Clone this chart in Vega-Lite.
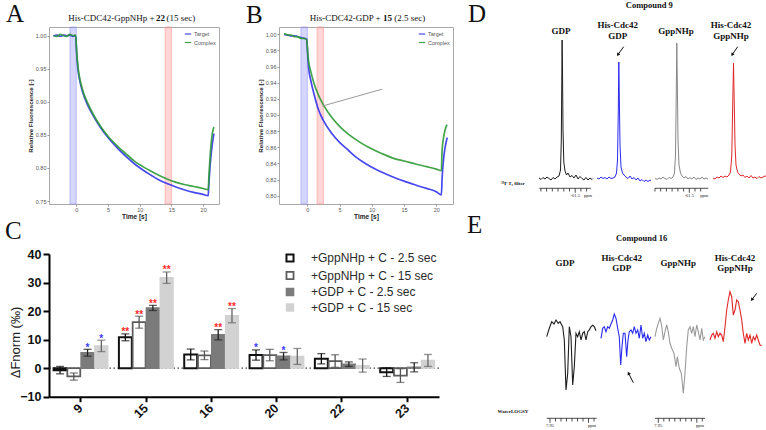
{
"$schema": "https://vega.github.io/schema/vega-lite/v6.json",
"background": "#ffffff",
"padding": {"left": 5, "top": 0, "right": 0, "bottom": 0},
"spacing": -9,
"resolve": {"scale": {"color": "independent", "fill": "independent", "stroke": "independent", "strokeWidth": "independent"}},
"config": {"view": {"stroke": null}, "font": "Liberation Sans"},
"vconcat": [
 {"bounds": "flush", "spacing": 14,
  "resolve": {"scale": {"color": "independent", "fill": "independent", "stroke": "independent", "strokeWidth": "independent"}},
  "hconcat": [
  {
   "width": 170, "height": 177,
   "view": {"stroke": "#aaaaaa"},
   "encoding": {"x": {"field": "t", "type": "quantitative", "scale": {"domain": [-4.3, 22.5], "nice": false, "zero": false},
     "axis": {"values": [0,5,10,15,20], "format": "d", "tickCount": 100, "labelOverlap": false, "title": "Time [s]", "grid": false, "domain": false, "labelFontSize": 5.5, "labelColor": "#555555", "tickSize": 2, "tickColor": "#999999", "labelPadding": 1, "titleFontSize": 6.5, "titleFontWeight": "bold", "titleColor": "#222222", "titlePadding": 1}}},
   "layer": [
    {"data": {"values": [{"t": -1, "t2": 0, "window": "pre-injection"}, {"t": 14, "t2": 15, "window": "read-out"}]},
     "mark": {"type": "rect", "fillOpacity": 0.28, "strokeWidth": 0.8, "strokeOpacity": 0.6},
     "encoding": {"x2": {"field": "t2"},
       "fill": {"field": "window", "type": "nominal", "scale": {"domain": ["pre-injection", "read-out"], "range": ["#6a6aff", "#ff6a6a"]}, "legend": null},
       "stroke": {"field": "window", "type": "nominal", "scale": {"domain": ["pre-injection", "read-out"], "range": ["#8a8aff", "#ff8a8a"]}, "legend": null}}},
    {"data": {"values": [
      {"t": -3.6, "f": 1.000, "series": "Target"}, {"t": -3, "f": 1.001, "series": "Target"}, {"t": -2.5, "f": 0.999, "series": "Target"}, {"t": -2, "f": 1.001, "series": "Target"}, {"t": -1.5, "f": 1.000, "series": "Target"}, {"t": -1, "f": 1.001, "series": "Target"}, {"t": -0.5, "f": 0.999, "series": "Target"}, {"t": -0.1, "f": 1.000, "series": "Target"}, {"t": 0.05, "f": 0.975, "series": "Target"}, {"t": 0.25, "f": 0.950, "series": "Target"}, {"t": 0.6, "f": 0.930, "series": "Target"}, {"t": 1, "f": 0.915, "series": "Target"}, {"t": 1.8, "f": 0.895, "series": "Target"}, {"t": 2.8, "f": 0.877, "series": "Target"}, {"t": 3.9, "f": 0.860, "series": "Target"}, {"t": 5, "f": 0.846, "series": "Target"}, {"t": 6.6, "f": 0.829, "series": "Target"}, {"t": 8, "f": 0.816, "series": "Target"}, {"t": 9.2, "f": 0.806, "series": "Target"}, {"t": 10.5, "f": 0.797, "series": "Target"}, {"t": 11.8, "f": 0.789, "series": "Target"}, {"t": 13, "f": 0.782, "series": "Target"}, {"t": 14.4, "f": 0.776, "series": "Target"}, {"t": 15.5, "f": 0.772, "series": "Target"}, {"t": 17, "f": 0.767, "series": "Target"}, {"t": 18.5, "f": 0.763, "series": "Target"}, {"t": 20, "f": 0.760, "series": "Target"}, {"t": 20.8, "f": 0.758, "series": "Target"}, {"t": 20.9, "f": 0.775, "series": "Target"}, {"t": 21.2, "f": 0.815, "series": "Target"}, {"t": 21.5, "f": 0.840, "series": "Target"}, {"t": 21.7, "f": 0.852, "series": "Target"},
      {"t": -3.6, "f": 1.000, "series": "Complex"}, {"t": -3, "f": 0.999, "series": "Complex"}, {"t": -2.5, "f": 1.002, "series": "Complex"}, {"t": -2, "f": 1.000, "series": "Complex"}, {"t": -1.5, "f": 0.999, "series": "Complex"}, {"t": -1, "f": 1.002, "series": "Complex"}, {"t": -0.5, "f": 1.000, "series": "Complex"}, {"t": -0.1, "f": 1.001, "series": "Complex"}, {"t": 0.05, "f": 0.978, "series": "Complex"}, {"t": 0.25, "f": 0.955, "series": "Complex"}, {"t": 0.6, "f": 0.933, "series": "Complex"}, {"t": 1, "f": 0.918, "series": "Complex"}, {"t": 1.8, "f": 0.898, "series": "Complex"}, {"t": 2.8, "f": 0.879, "series": "Complex"}, {"t": 3.9, "f": 0.862, "series": "Complex"}, {"t": 5, "f": 0.848, "series": "Complex"}, {"t": 6.6, "f": 0.832, "series": "Complex"}, {"t": 8, "f": 0.820, "series": "Complex"}, {"t": 9.2, "f": 0.810, "series": "Complex"}, {"t": 10.5, "f": 0.802, "series": "Complex"}, {"t": 11.8, "f": 0.795, "series": "Complex"}, {"t": 13, "f": 0.789, "series": "Complex"}, {"t": 14.4, "f": 0.783, "series": "Complex"}, {"t": 15.5, "f": 0.779, "series": "Complex"}, {"t": 17, "f": 0.775, "series": "Complex"}, {"t": 18.5, "f": 0.772, "series": "Complex"}, {"t": 20, "f": 0.769, "series": "Complex"}, {"t": 20.8, "f": 0.767, "series": "Complex"}, {"t": 20.9, "f": 0.785, "series": "Complex"}, {"t": 21.2, "f": 0.830, "series": "Complex"}, {"t": 21.5, "f": 0.855, "series": "Complex"}, {"t": 21.7, "f": 0.862, "series": "Complex"}]},
     "mark": {"type": "line", "strokeWidth": 1.7, "interpolate": "monotone", "opacity": 0.9},
     "encoding": {"y": {"field": "f", "type": "quantitative", "scale": {"domain": [0.7455, 1.0132], "nice": false, "zero": false},
       "axis": {"values": [0.75,0.8,0.85,0.9,0.95,1.0], "tickCount": 100, "labelOverlap": false, "format": ".2f", "title": "Relative Fluorescence [-]", "grid": false, "domain": false, "labelFontSize": 5.5, "labelColor": "#555555", "tickSize": 2, "tickColor": "#999999", "labelPadding": 1, "titleFontSize": 6.2, "titleFontWeight": "bold", "titleColor": "#222222", "titlePadding": 2}},
       "color": {"field": "series", "type": "nominal", "scale": {"domain": ["Target", "Complex"], "range": ["#3434ee", "#2f9a35"]},
         "legend": {"title": null, "orient": "top-right", "offset": 3, "padding": 0, "labelFontSize": 5.5, "labelColor": "#555555", "symbolType": "stroke", "symbolSize": 40, "symbolStrokeWidth": 1.2, "rowPadding": 0.5, "labelOffset": 2}}}},
    {"data": {"values": [{"t": -11.08, "f": 1.0207, "label": "A"}]},
     "mark": {"type": "text", "align": "left", "baseline": "alphabetic", "font": "Liberation Serif", "fontSize": 25, "color": "#111111"},
     "encoding": {"y": {"field": "f", "type": "quantitative"}, "text": {"field": "label"}}},
    {"data": {"values": [{"t": 12.33, "f": 1.0227, "label": "His-CDC42-GppNHp +"}]},
     "mark": {"type": "text", "align": "right", "baseline": "alphabetic", "font": "Liberation Serif", "fontSize": 9, "color": "#111111"},
     "encoding": {"y": {"field": "f", "type": "quantitative"}, "text": {"field": "label"}}},
    {"data": {"values": [{"t": 13.28, "f": 1.0227, "label": "22"}]},
     "mark": {"type": "text", "align": "center", "baseline": "alphabetic", "font": "Liberation Serif", "fontSize": 9, "fontWeight": "bold", "color": "#111111"},
     "encoding": {"y": {"field": "f", "type": "quantitative"}, "text": {"field": "label"}}},
    {"data": {"values": [{"t": 14.22, "f": 1.0227, "label": "(15 sec)"}]},
     "mark": {"type": "text", "align": "left", "baseline": "alphabetic", "font": "Liberation Serif", "fontSize": 9, "color": "#111111"},
     "encoding": {"y": {"field": "f", "type": "quantitative"}, "text": {"field": "label"}}}
   ]
  },
  {"width": 32, "height": 1, "data": {"values": [{"spacer": 1}]}, "mark": {"type": "point", "opacity": 0}, "encoding": {}},
  {
   "width": 174, "height": 177,
   "view": {"stroke": "#aaaaaa"},
   "encoding": {"x": {"field": "t", "type": "quantitative", "scale": {"domain": [-4.4, 22.6], "nice": false, "zero": false},
     "axis": {"values": [0,5,10,15,20], "format": "d", "tickCount": 100, "labelOverlap": false, "title": "Time [s]", "grid": false, "domain": false, "labelFontSize": 5.5, "labelColor": "#555555", "tickSize": 2, "tickColor": "#999999", "labelPadding": 1, "titleFontSize": 6.5, "titleFontWeight": "bold", "titleColor": "#222222", "titlePadding": 1}}},
   "layer": [
    {"data": {"values": [{"t": -1, "t2": 0, "window": "pre-injection"}, {"t": 1.5, "t2": 2.5, "window": "read-out"}]},
     "mark": {"type": "rect", "fillOpacity": 0.28, "strokeWidth": 0.8, "strokeOpacity": 0.6},
     "encoding": {"x2": {"field": "t2"},
       "fill": {"field": "window", "type": "nominal", "scale": {"domain": ["pre-injection", "read-out"], "range": ["#6a6aff", "#ff6a6a"]}, "legend": null},
       "stroke": {"field": "window", "type": "nominal", "scale": {"domain": ["pre-injection", "read-out"], "range": ["#8a8aff", "#ff8a8a"]}, "legend": null}}},
    {"data": {"values": [
      {"t": -3.6, "f": 1.000, "series": "Target"}, {"t": -3, "f": 0.999, "series": "Target"}, {"t": -2.5, "f": 0.998, "series": "Target"}, {"t": -2, "f": 0.998, "series": "Target"}, {"t": -1.5, "f": 0.997, "series": "Target"}, {"t": -1, "f": 0.996, "series": "Target"}, {"t": -0.5, "f": 0.995, "series": "Target"}, {"t": -0.1, "f": 0.994, "series": "Target"}, {"t": 0.05, "f": 0.975, "series": "Target"}, {"t": 0.2, "f": 0.958, "series": "Target"}, {"t": 0.5, "f": 0.944, "series": "Target"}, {"t": 1, "f": 0.927, "series": "Target"}, {"t": 1.7, "f": 0.907, "series": "Target"}, {"t": 2.5, "f": 0.893, "series": "Target"}, {"t": 3.8, "f": 0.877, "series": "Target"}, {"t": 5, "f": 0.866, "series": "Target"}, {"t": 6.4, "f": 0.856, "series": "Target"}, {"t": 7.5, "f": 0.848, "series": "Target"}, {"t": 9, "f": 0.840, "series": "Target"}, {"t": 10.3, "f": 0.834, "series": "Target"}, {"t": 11.6, "f": 0.829, "series": "Target"}, {"t": 13, "f": 0.824, "series": "Target"}, {"t": 15, "f": 0.818, "series": "Target"}, {"t": 16.9, "f": 0.813, "series": "Target"}, {"t": 18.5, "f": 0.809, "series": "Target"}, {"t": 20, "f": 0.805, "series": "Target"}, {"t": 20.8, "f": 0.801, "series": "Target"}, {"t": 20.9, "f": 0.820, "series": "Target"}, {"t": 21.2, "f": 0.850, "series": "Target"}, {"t": 21.5, "f": 0.865, "series": "Target"}, {"t": 21.7, "f": 0.872, "series": "Target"},
      {"t": -3.6, "f": 1.001, "series": "Complex"}, {"t": -3, "f": 0.999, "series": "Complex"}, {"t": -2.5, "f": 0.999, "series": "Complex"}, {"t": -2, "f": 0.997, "series": "Complex"}, {"t": -1.5, "f": 0.997, "series": "Complex"}, {"t": -1, "f": 0.995, "series": "Complex"}, {"t": -0.5, "f": 0.995, "series": "Complex"}, {"t": -0.1, "f": 0.993, "series": "Complex"}, {"t": 0.05, "f": 0.978, "series": "Complex"}, {"t": 0.2, "f": 0.966, "series": "Complex"}, {"t": 0.5, "f": 0.955, "series": "Complex"}, {"t": 1, "f": 0.940, "series": "Complex"}, {"t": 1.7, "f": 0.925, "series": "Complex"}, {"t": 2.6, "f": 0.911, "series": "Complex"}, {"t": 3.8, "f": 0.897, "series": "Complex"}, {"t": 5, "f": 0.886, "series": "Complex"}, {"t": 6.4, "f": 0.876, "series": "Complex"}, {"t": 8, "f": 0.867, "series": "Complex"}, {"t": 9.5, "f": 0.860, "series": "Complex"}, {"t": 11.6, "f": 0.852, "series": "Complex"}, {"t": 13.5, "f": 0.846, "series": "Complex"}, {"t": 15, "f": 0.843, "series": "Complex"}, {"t": 16.9, "f": 0.839, "series": "Complex"}, {"t": 18.5, "f": 0.836, "series": "Complex"}, {"t": 20, "f": 0.833, "series": "Complex"}, {"t": 20.8, "f": 0.831, "series": "Complex"}, {"t": 20.9, "f": 0.855, "series": "Complex"}, {"t": 21.2, "f": 0.875, "series": "Complex"}, {"t": 21.5, "f": 0.885, "series": "Complex"}, {"t": 21.7, "f": 0.888, "series": "Complex"}]},
     "mark": {"type": "line", "strokeWidth": 1.7, "interpolate": "monotone", "opacity": 0.9},
     "encoding": {"y": {"field": "f", "type": "quantitative", "scale": {"domain": [0.7897, 1.00905], "nice": false, "zero": false},
       "axis": {"values": [0.8,0.82,0.84,0.86,0.88,0.9,0.92,0.94,0.96,0.98,1.0], "tickCount": 100, "labelOverlap": false, "format": ".2f", "title": "Relative Fluorescence [-]", "grid": false, "domain": false, "labelFontSize": 5.5, "labelColor": "#555555", "tickSize": 2, "tickColor": "#999999", "labelPadding": 1, "titleFontSize": 6.2, "titleFontWeight": "bold", "titleColor": "#222222", "titlePadding": 2}},
       "color": {"field": "series", "type": "nominal", "scale": {"domain": ["Target", "Complex"], "range": ["#3434ee", "#2f9a35"]},
         "legend": {"title": null, "orient": "top-right", "offset": 3, "padding": 0, "labelFontSize": 5.5, "labelColor": "#555555", "symbolType": "stroke", "symbolSize": 40, "symbolStrokeWidth": 1.2, "rowPadding": 0.5, "labelOffset": 2}}}},
    {"data": {"values": [{"t": 2.3, "f": 0.911, "t2": 11.6, "f2": 0.932}]},
     "mark": {"type": "rule", "color": "#9a9a9a", "strokeWidth": 1},
     "encoding": {"y": {"field": "f", "type": "quantitative"}, "x2": {"field": "t2"}, "y2": {"field": "f2"}}},
    {"data": {"values": [{"t": -9.52, "f": 1.01401, "label": "B"}]},
     "mark": {"type": "text", "align": "left", "baseline": "alphabetic", "font": "Liberation Serif", "fontSize": 25, "color": "#111111"},
     "encoding": {"y": {"field": "f", "type": "quantitative"}, "text": {"field": "label"}}},
    {"data": {"values": [{"t": 11.38, "f": 1.01686, "label": "His-CDC42-GDP +"}]},
     "mark": {"type": "text", "align": "right", "baseline": "alphabetic", "font": "Liberation Serif", "fontSize": 9, "color": "#111111"},
     "encoding": {"y": {"field": "f", "type": "quantitative"}, "text": {"field": "label"}}},
    {"data": {"values": [{"t": 12.42, "f": 1.01686, "label": "15"}]},
     "mark": {"type": "text", "align": "center", "baseline": "alphabetic", "font": "Liberation Serif", "fontSize": 9, "fontWeight": "bold", "color": "#111111"},
     "encoding": {"y": {"field": "f", "type": "quantitative"}, "text": {"field": "label"}}},
    {"data": {"values": [{"t": 13.48, "f": 1.01686, "label": "(2.5 sec)"}]},
     "mark": {"type": "text", "align": "left", "baseline": "alphabetic", "font": "Liberation Serif", "fontSize": 9, "color": "#111111"},
     "encoding": {"y": {"field": "f", "type": "quantitative"}, "text": {"field": "label"}}}
   ]
  },
  {
   "width": 300, "height": 173,
   "encoding": {
    "x": {"field": "x", "type": "quantitative", "scale": {"domain": [0, 300], "nice": false, "zero": false}, "axis": null},
    "y": {"field": "y", "type": "quantitative", "scale": {"domain": [0, 173], "nice": false, "zero": false}, "axis": null}},
   "layer": [
    {"data": {"values": [
      {"x": 72, "y": 22, "sample": "GDP"}, {"x": 74, "y": 20.5, "sample": "GDP"}, {"x": 76, "y": 22.5, "sample": "GDP"}, {"x": 78, "y": 21, "sample": "GDP"}, {"x": 80, "y": 23, "sample": "GDP"}, {"x": 82, "y": 21.5, "sample": "GDP"}, {"x": 84, "y": 20, "sample": "GDP"}, {"x": 86, "y": 22.5, "sample": "GDP"}, {"x": 88, "y": 21, "sample": "GDP"}, {"x": 90, "y": 23, "sample": "GDP"}, {"x": 92, "y": 24, "sample": "GDP"}, {"x": 93.5, "y": 30, "sample": "GDP"}, {"x": 94.3, "y": 60, "sample": "GDP"}, {"x": 94.8, "y": 120, "sample": "GDP"}, {"x": 95.1, "y": 160, "sample": "GDP"}, {"x": 95.5, "y": 130, "sample": "GDP"}, {"x": 96, "y": 70, "sample": "GDP"}, {"x": 96.8, "y": 38, "sample": "GDP"}, {"x": 98, "y": 29, "sample": "GDP"}, {"x": 99.5, "y": 25, "sample": "GDP"}, {"x": 101, "y": 27, "sample": "GDP"}, {"x": 103, "y": 23, "sample": "GDP"}, {"x": 105, "y": 24.5, "sample": "GDP"}, {"x": 107, "y": 22, "sample": "GDP"}, {"x": 109, "y": 25, "sample": "GDP"}, {"x": 111, "y": 21, "sample": "GDP"}, {"x": 113, "y": 23.5, "sample": "GDP"}, {"x": 115, "y": 21.5, "sample": "GDP"}, {"x": 117, "y": 20, "sample": "GDP"}, {"x": 119, "y": 22.5, "sample": "GDP"}, {"x": 121, "y": 20, "sample": "GDP"}, {"x": 123, "y": 22, "sample": "GDP"}, {"x": 125, "y": 20.5, "sample": "GDP"}, {"x": 126, "y": 21.5, "sample": "GDP"},
      {"x": 130, "y": 22, "sample": "His-Cdc42 GDP"}, {"x": 132, "y": 21, "sample": "His-Cdc42 GDP"}, {"x": 134, "y": 23, "sample": "His-Cdc42 GDP"}, {"x": 136, "y": 21.5, "sample": "His-Cdc42 GDP"}, {"x": 138, "y": 22.5, "sample": "His-Cdc42 GDP"}, {"x": 140, "y": 21, "sample": "His-Cdc42 GDP"}, {"x": 142, "y": 23, "sample": "His-Cdc42 GDP"}, {"x": 144, "y": 21.5, "sample": "His-Cdc42 GDP"}, {"x": 146, "y": 22, "sample": "His-Cdc42 GDP"}, {"x": 148, "y": 23, "sample": "His-Cdc42 GDP"}, {"x": 149.5, "y": 27, "sample": "His-Cdc42 GDP"}, {"x": 150.5, "y": 40, "sample": "His-Cdc42 GDP"}, {"x": 151.3, "y": 90, "sample": "His-Cdc42 GDP"}, {"x": 151.8, "y": 138, "sample": "His-Cdc42 GDP"}, {"x": 152.3, "y": 105, "sample": "His-Cdc42 GDP"}, {"x": 153, "y": 55, "sample": "His-Cdc42 GDP"}, {"x": 154, "y": 33, "sample": "His-Cdc42 GDP"}, {"x": 155.5, "y": 27, "sample": "His-Cdc42 GDP"}, {"x": 157, "y": 25, "sample": "His-Cdc42 GDP"}, {"x": 159, "y": 23, "sample": "His-Cdc42 GDP"}, {"x": 161, "y": 21.5, "sample": "His-Cdc42 GDP"}, {"x": 163, "y": 24, "sample": "His-Cdc42 GDP"}, {"x": 165, "y": 21, "sample": "His-Cdc42 GDP"}, {"x": 167, "y": 22.5, "sample": "His-Cdc42 GDP"}, {"x": 169, "y": 20, "sample": "His-Cdc42 GDP"}, {"x": 171, "y": 22, "sample": "His-Cdc42 GDP"}, {"x": 173, "y": 19, "sample": "His-Cdc42 GDP"}, {"x": 175, "y": 20.5, "sample": "His-Cdc42 GDP"}, {"x": 177, "y": 18.5, "sample": "His-Cdc42 GDP"}, {"x": 179, "y": 20, "sample": "His-Cdc42 GDP"}, {"x": 181, "y": 18.5, "sample": "His-Cdc42 GDP"}, {"x": 183, "y": 20, "sample": "His-Cdc42 GDP"}, {"x": 184, "y": 19.5, "sample": "His-Cdc42 GDP"},
      {"x": 188, "y": 22, "sample": "GppNHp"}, {"x": 190, "y": 20.5, "sample": "GppNHp"}, {"x": 192, "y": 22, "sample": "GppNHp"}, {"x": 194, "y": 21, "sample": "GppNHp"}, {"x": 196, "y": 23, "sample": "GppNHp"}, {"x": 198, "y": 21.5, "sample": "GppNHp"}, {"x": 200, "y": 20.5, "sample": "GppNHp"}, {"x": 202, "y": 22.5, "sample": "GppNHp"}, {"x": 204, "y": 21.5, "sample": "GppNHp"}, {"x": 206, "y": 23, "sample": "GppNHp"}, {"x": 207.5, "y": 27, "sample": "GppNHp"}, {"x": 208.5, "y": 45, "sample": "GppNHp"}, {"x": 209.3, "y": 110, "sample": "GppNHp"}, {"x": 209.8, "y": 157, "sample": "GppNHp"}, {"x": 210.3, "y": 120, "sample": "GppNHp"}, {"x": 211, "y": 60, "sample": "GppNHp"}, {"x": 212, "y": 35, "sample": "GppNHp"}, {"x": 213.5, "y": 27, "sample": "GppNHp"}, {"x": 215, "y": 24, "sample": "GppNHp"}, {"x": 217, "y": 22, "sample": "GppNHp"}, {"x": 219, "y": 23.5, "sample": "GppNHp"}, {"x": 221, "y": 21, "sample": "GppNHp"}, {"x": 223, "y": 22.5, "sample": "GppNHp"}, {"x": 225, "y": 21, "sample": "GppNHp"}, {"x": 227, "y": 23, "sample": "GppNHp"}, {"x": 229, "y": 20.5, "sample": "GppNHp"}, {"x": 231, "y": 22, "sample": "GppNHp"}, {"x": 233, "y": 21, "sample": "GppNHp"}, {"x": 235, "y": 23, "sample": "GppNHp"}, {"x": 237, "y": 21, "sample": "GppNHp"}, {"x": 239, "y": 22, "sample": "GppNHp"}, {"x": 241, "y": 21, "sample": "GppNHp"},
      {"x": 246, "y": 22, "sample": "His-Cdc42 GppNHp"}, {"x": 248, "y": 21, "sample": "His-Cdc42 GppNHp"}, {"x": 250, "y": 23, "sample": "His-Cdc42 GppNHp"}, {"x": 252, "y": 22, "sample": "His-Cdc42 GppNHp"}, {"x": 254, "y": 24, "sample": "His-Cdc42 GppNHp"}, {"x": 256, "y": 22.5, "sample": "His-Cdc42 GppNHp"}, {"x": 258, "y": 24, "sample": "His-Cdc42 GppNHp"}, {"x": 260, "y": 23, "sample": "His-Cdc42 GppNHp"}, {"x": 262, "y": 25, "sample": "His-Cdc42 GppNHp"}, {"x": 263.5, "y": 28, "sample": "His-Cdc42 GppNHp"}, {"x": 264.8, "y": 45, "sample": "His-Cdc42 GppNHp"}, {"x": 265.8, "y": 100, "sample": "His-Cdc42 GppNHp"}, {"x": 266.5, "y": 137, "sample": "His-Cdc42 GppNHp"}, {"x": 267.2, "y": 100, "sample": "His-Cdc42 GppNHp"}, {"x": 268, "y": 55, "sample": "His-Cdc42 GppNHp"}, {"x": 269, "y": 35, "sample": "His-Cdc42 GppNHp"}, {"x": 270.5, "y": 28, "sample": "His-Cdc42 GppNHp"}, {"x": 272, "y": 26, "sample": "His-Cdc42 GppNHp"}, {"x": 274, "y": 24, "sample": "His-Cdc42 GppNHp"}, {"x": 276, "y": 25, "sample": "His-Cdc42 GppNHp"}, {"x": 278, "y": 22.5, "sample": "His-Cdc42 GppNHp"}, {"x": 280, "y": 24, "sample": "His-Cdc42 GppNHp"}, {"x": 282, "y": 22, "sample": "His-Cdc42 GppNHp"}, {"x": 284, "y": 24.5, "sample": "His-Cdc42 GppNHp"}, {"x": 286, "y": 22, "sample": "His-Cdc42 GppNHp"}, {"x": 288, "y": 23, "sample": "His-Cdc42 GppNHp"}, {"x": 290, "y": 21.5, "sample": "His-Cdc42 GppNHp"}, {"x": 292, "y": 23.5, "sample": "His-Cdc42 GppNHp"}, {"x": 294, "y": 22, "sample": "His-Cdc42 GppNHp"}, {"x": 296, "y": 23, "sample": "His-Cdc42 GppNHp"}, {"x": 298, "y": 24, "sample": "His-Cdc42 GppNHp"}, {"x": 300, "y": 23.5, "sample": "His-Cdc42 GppNHp"}]},
     "mark": {"type": "line", "strokeWidth": 1},
     "encoding": {"color": {"field": "sample", "type": "nominal", "scale": {"domain": ["GDP", "His-Cdc42 GDP", "GppNHp", "His-Cdc42 GppNHp"], "range": ["#1e1e1e", "#2b2bef", "#888888", "#e02828"]}, "legend": null}}},
    {"data": {"values": [
      {"x": 72.3, "x2": 124, "y": 11.7, "y2": 11.7}, {"x": 188, "x2": 241.3, "y": 11.7, "y2": 11.7},
      {"x": 73.9, "x2": 73.9, "y": 11.7, "y2": 8.5}, {"x": 79.6, "x2": 79.6, "y": 11.7, "y2": 8.5}, {"x": 85.3, "x2": 85.3, "y": 11.7, "y2": 8.5}, {"x": 91.0, "x2": 91.0, "y": 11.7, "y2": 8.5}, {"x": 96.8, "x2": 96.8, "y": 11.7, "y2": 8.5}, {"x": 102.5, "x2": 102.5, "y": 11.7, "y2": 8.5}, {"x": 108.2, "x2": 108.2, "y": 11.7, "y2": 7.2}, {"x": 113.9, "x2": 113.9, "y": 11.7, "y2": 8.5}, {"x": 119.6, "x2": 119.6, "y": 11.7, "y2": 8.5},
      {"x": 188, "x2": 188, "y": 11.7, "y2": 8.5}, {"x": 193.7, "x2": 193.7, "y": 11.7, "y2": 8.5}, {"x": 199.4, "x2": 199.4, "y": 11.7, "y2": 8.5}, {"x": 205.1, "x2": 205.1, "y": 11.7, "y2": 8.5}, {"x": 210.9, "x2": 210.9, "y": 11.7, "y2": 8.5}, {"x": 216.6, "x2": 216.6, "y": 11.7, "y2": 8.5}, {"x": 222.3, "x2": 222.3, "y": 11.7, "y2": 7.2}, {"x": 228, "x2": 228, "y": 11.7, "y2": 8.5}, {"x": 233.7, "x2": 233.7, "y": 11.7, "y2": 8.5}]},
     "mark": {"type": "rule", "color": "#222222", "strokeWidth": 0.8},
     "encoding": {"x2": {"field": "x2"}, "y2": {"field": "y2"}}},
    {"data": {"values": [{"x": 156.7, "y": 153.3, "x2": 151.2, "y2": 145.8}, {"x": 270.7, "y": 153.3, "x2": 265.5, "y2": 145.8}]},
     "mark": {"type": "rule", "color": "#111111", "strokeWidth": 1},
     "encoding": {"x2": {"field": "x2"}, "y2": {"field": "y2"}}},
    {"data": {"values": [{"x": 151.2, "y": 145.8}, {"x": 265.5, "y": 145.8}]},
     "mark": {"type": "point", "shape": "triangle", "filled": true, "size": 14, "angle": 215, "color": "#111111", "opacity": 1},
     "encoding": {}},
    {"data": {"values": [{"x": 1, "y": 178, "label": "D"}]},
     "mark": {"type": "text", "align": "left", "baseline": "alphabetic", "font": "Liberation Serif", "fontSize": 25, "color": "#111111"},
     "encoding": {"text": {"field": "label"}}},
    {"data": {"values": [{"x": 182.3, "y": 195, "label": "Compound 9"}]},
     "mark": {"type": "text", "baseline": "middle", "font": "Liberation Serif", "fontSize": 8.5, "fontWeight": "bold", "color": "#111111"},
     "encoding": {"text": {"field": "label"}}},
    {"data": {"values": [{"x": 94, "y": 169.3, "label": "GDP"}, {"x": 150.7, "y": 175, "label": "His-Cdc42"}, {"x": 150.7, "y": 164, "label": "GDP"}, {"x": 209, "y": 169.3, "label": "GppNHp"}, {"x": 264, "y": 175, "label": "His-Cdc42"}, {"x": 264, "y": 164, "label": "GppNHp"}]},
     "mark": {"type": "text", "baseline": "middle", "font": "Liberation Serif", "fontSize": 9, "fontWeight": "bold", "color": "#111111"},
     "encoding": {"text": {"field": "label"}}},
    {"data": {"values": [{"x": 46, "y": 17, "label": "¹⁹F T₂ filter"}]},
     "mark": {"type": "text", "baseline": "middle", "font": "Liberation Serif", "fontSize": 5, "fontWeight": "bold", "color": "#111111"},
     "encoding": {"text": {"field": "label"}}},
    {"data": {"values": [{"x": 108.2, "y": 4.5, "label": "-61.5"}, {"x": 121, "y": 4.5, "label": "ppm"}, {"x": 222.3, "y": 4.5, "label": "-61.5"}, {"x": 237.3, "y": 4.5, "label": "ppm"}]},
     "mark": {"type": "text", "baseline": "middle", "font": "Liberation Serif", "fontSize": 4.5, "color": "#222222"},
     "encoding": {"text": {"field": "label"}}}
   ]
  }
 ]},
 {"bounds": "flush", "spacing": 27,
  "resolve": {"scale": {"color": "independent", "fill": "independent", "stroke": "independent", "strokeWidth": "independent"}},
  "hconcat": [
  {
   "width": 390, "height": 142.7,
   "title": {"text": "C", "anchor": "start", "frame": "group", "font": "Liberation Serif", "fontSize": 25, "fontWeight": "normal", "color": "#111111", "dx": -44, "offset": -16, "baseline": "alphabetic"},
   "data": {"values": [
    {"compound": "9", "cond": "+GppNHp + C - 2.5 sec", "mean": -0.7, "lo": -2.0, "hi": 0.6, "sig": "", "level": ""},
    {"compound": "9", "cond": "+GppNHp + C - 15 sec", "mean": -2.9, "lo": -4.2, "hi": -1.7, "sig": "", "level": ""},
    {"compound": "9", "cond": "+GDP + C - 2.5 sec", "mean": 5.4, "lo": 4.2, "hi": 6.6, "sig": "*", "level": "p<0.05"},
    {"compound": "9", "cond": "+GDP + C - 15 sec", "mean": 7.8, "lo": 5.8, "hi": 9.8, "sig": "*", "level": "p<0.05"},
    {"compound": "15", "cond": "+GppNHp + C - 2.5 sec", "mean": 10.8, "lo": 9.6, "hi": 12.0, "sig": "**", "level": "p<0.01"},
    {"compound": "15", "cond": "+GppNHp + C - 15 sec", "mean": 16.1, "lo": 14.0, "hi": 18.2, "sig": "**", "level": "p<0.01"},
    {"compound": "15", "cond": "+GDP + C - 2.5 sec", "mean": 21.1, "lo": 20.2, "hi": 22.0, "sig": "**", "level": "p<0.01"},
    {"compound": "15", "cond": "+GDP + C - 15 sec", "mean": 31.7, "lo": 29.7, "hi": 33.7, "sig": "**", "level": "p<0.01"},
    {"compound": "16", "cond": "+GppNHp + C - 2.5 sec", "mean": 4.8, "lo": 2.9, "hi": 6.7, "sig": "", "level": ""},
    {"compound": "16", "cond": "+GppNHp + C - 15 sec", "mean": 4.5, "lo": 3.0, "hi": 6.0, "sig": "", "level": ""},
    {"compound": "16", "cond": "+GDP + C - 2.5 sec", "mean": 11.7, "lo": 9.9, "hi": 13.5, "sig": "**", "level": "p<0.01"},
    {"compound": "16", "cond": "+GDP + C - 15 sec", "mean": 18.4, "lo": 15.9, "hi": 20.9, "sig": "**", "level": "p<0.01"},
    {"compound": "20", "cond": "+GppNHp + C - 2.5 sec", "mean": 4.6, "lo": 2.8, "hi": 6.4, "sig": "*", "level": "p<0.05"},
    {"compound": "20", "cond": "+GppNHp + C - 15 sec", "mean": 4.6, "lo": 2.6, "hi": 6.6, "sig": "", "level": ""},
    {"compound": "20", "cond": "+GDP + C - 2.5 sec", "mean": 4.2, "lo": 2.9, "hi": 5.5, "sig": "*", "level": "p<0.05"},
    {"compound": "20", "cond": "+GDP + C - 15 sec", "mean": 4.1, "lo": 1.3, "hi": 6.9, "sig": "", "level": ""},
    {"compound": "22", "cond": "+GppNHp + C - 2.5 sec", "mean": 3.3, "lo": 1.5, "hi": 5.1, "sig": "", "level": ""},
    {"compound": "22", "cond": "+GppNHp + C - 15 sec", "mean": 2.5, "lo": 0.3, "hi": 4.7, "sig": "", "level": ""},
    {"compound": "22", "cond": "+GDP + C - 2.5 sec", "mean": 1.4, "lo": 0.6, "hi": 2.2, "sig": "", "level": ""},
    {"compound": "22", "cond": "+GDP + C - 15 sec", "mean": 0.9, "lo": -1.4, "hi": 3.2, "sig": "", "level": ""},
    {"compound": "23", "cond": "+GppNHp + C - 2.5 sec", "mean": -1.4, "lo": -2.9, "hi": 0.1, "sig": "", "level": ""},
    {"compound": "23", "cond": "+GppNHp + C - 15 sec", "mean": -2.6, "lo": -5.0, "hi": -0.2, "sig": "", "level": ""},
    {"compound": "23", "cond": "+GDP + C - 2.5 sec", "mean": 0.3, "lo": -1.3, "hi": 1.9, "sig": "", "level": ""},
    {"compound": "23", "cond": "+GDP + C - 15 sec", "mean": 2.7, "lo": 0.6, "hi": 4.8, "sig": "", "level": ""}
   ]},
   "resolve": {"scale": {"color": "independent"}},
   "layer": [
    {"data": {"values": [{"baseline": 0}]},
     "mark": {"type": "rule", "strokeDash": [1.5, 2.5], "strokeWidth": 1.3, "color": "#444444"},
     "encoding": {"y": {"field": "baseline", "type": "quantitative"}}},
    {"mark": {"type": "bar"},
     "encoding": {
      "x": {"field": "compound", "type": "nominal", "sort": null, "scale": {"domain": ["9","15","16","20","22","23"], "paddingInner": 0.17, "paddingOuter": 0.07},
        "axis": {"title": null, "labelAngle": 315, "labelAlign": "right", "labelBaseline": "middle", "labelOverlap": false, "labelFontSize": 12.5, "labelFontWeight": "bold", "labelColor": "#111111", "domainColor": "#000000", "domainWidth": 2, "tickColor": "#000000", "tickWidth": 2, "tickSize": 5, "labelPadding": 4, "grid": false}},
      "xOffset": {"field": "cond", "type": "nominal", "sort": null, "scale": {"domain": ["+GppNHp + C - 2.5 sec", "+GppNHp + C - 15 sec", "+GDP + C - 2.5 sec", "+GDP + C - 15 sec"], "paddingInner": 0.06}},
      "y": {"field": "mean", "type": "quantitative", "scale": {"domain": [-10, 40], "nice": false, "zero": false},
        "axis": {"values": [-10,0,10,20,30,40], "format": "d", "tickCount": 100, "labelOverlap": false, "title": "ΔFnorm (‰)", "titleFontSize": 13, "titleFontWeight": "normal", "titleColor": "#222222", "titleX": -34, "titleY": 88, "titleAngle": -90, "titleAlign": "center", "titleBaseline": "middle", "labelFontSize": 12.5, "labelFontWeight": "bold", "labelColor": "#111111", "domainColor": "#000000", "domainWidth": 2, "tickColor": "#000000", "tickWidth": 2, "tickSize": 6, "labelPadding": 2, "grid": false}},
      "y2": {"datum": 0},
      "fill": {"field": "cond", "type": "nominal", "sort": null, "scale": {"domain": ["+GppNHp + C - 2.5 sec", "+GppNHp + C - 15 sec", "+GDP + C - 2.5 sec", "+GDP + C - 15 sec"], "range": ["#ffffff", "#ffffff", "#7b7b7b", "#d2d2d2"]},
        "legend": {"title": null, "orient": "none", "legendX": 235, "legendY": -2, "padding": 0, "labelFontSize": 12, "labelColor": "#2a2a2a", "symbolType": "square", "symbolSize": 50, "symbolStrokeWidth": 1.6, "rowPadding": 1.5, "labelOffset": 15}},
      "stroke": {"field": "cond", "type": "nominal", "sort": null, "scale": {"domain": ["+GppNHp + C - 2.5 sec", "+GppNHp + C - 15 sec", "+GDP + C - 2.5 sec", "+GDP + C - 15 sec"], "range": ["#111111", "#5c5c5c", "#7b7b7b", "#d2d2d2"]},
        "legend": {"title": null, "orient": "none", "legendX": 235, "legendY": -2, "padding": 0, "labelFontSize": 12, "labelColor": "#2a2a2a", "symbolType": "square", "symbolSize": 50, "symbolStrokeWidth": 1.6, "rowPadding": 1.5, "labelOffset": 15}},
      "strokeWidth": {"field": "cond", "type": "ordinal", "sort": null, "scale": {"domain": ["+GppNHp + C - 2.5 sec", "+GppNHp + C - 15 sec", "+GDP + C - 2.5 sec", "+GDP + C - 15 sec"], "range": [2, 1.3, 1, 1]}, "legend": null}
     }},
    {"mark": {"type": "rule", "strokeWidth": 1.3},
     "encoding": {
      "x": {"field": "compound", "type": "nominal", "sort": null, "axis": {"title": null, "labelAngle": 315, "labelAlign": "right", "labelBaseline": "middle", "labelOverlap": false, "labelFontSize": 12.5, "labelFontWeight": "bold", "labelColor": "#111111", "domainColor": "#000000", "domainWidth": 2, "tickColor": "#000000", "tickWidth": 2, "tickSize": 5, "labelPadding": 4, "grid": false}},
      "xOffset": {"field": "cond", "type": "nominal", "sort": null},
      "y": {"field": "lo", "type": "quantitative"}, "y2": {"field": "hi"},
      "color": {"field": "cond", "type": "nominal", "sort": null, "scale": {"domain": ["+GppNHp + C - 2.5 sec", "+GppNHp + C - 15 sec", "+GDP + C - 2.5 sec", "+GDP + C - 15 sec"], "range": ["#111111", "#555555", "#222222", "#666666"]}, "legend": null}}},
    {"mark": {"type": "tick", "size": 8, "thickness": 1.3},
     "encoding": {
      "x": {"field": "compound", "type": "nominal", "sort": null, "axis": {"title": null, "labelAngle": 315, "labelAlign": "right", "labelBaseline": "middle", "labelOverlap": false, "labelFontSize": 12.5, "labelFontWeight": "bold", "labelColor": "#111111", "domainColor": "#000000", "domainWidth": 2, "tickColor": "#000000", "tickWidth": 2, "tickSize": 5, "labelPadding": 4, "grid": false}},
      "xOffset": {"field": "cond", "type": "nominal", "sort": null},
      "y": {"field": "lo", "type": "quantitative"},
      "color": {"field": "cond", "type": "nominal", "sort": null, "scale": {"domain": ["+GppNHp + C - 2.5 sec", "+GppNHp + C - 15 sec", "+GDP + C - 2.5 sec", "+GDP + C - 15 sec"], "range": ["#111111", "#555555", "#222222", "#666666"]}, "legend": null}}},
    {"mark": {"type": "tick", "size": 8, "thickness": 1.3},
     "encoding": {
      "x": {"field": "compound", "type": "nominal", "sort": null, "axis": {"title": null, "labelAngle": 315, "labelAlign": "right", "labelBaseline": "middle", "labelOverlap": false, "labelFontSize": 12.5, "labelFontWeight": "bold", "labelColor": "#111111", "domainColor": "#000000", "domainWidth": 2, "tickColor": "#000000", "tickWidth": 2, "tickSize": 5, "labelPadding": 4, "grid": false}},
      "xOffset": {"field": "cond", "type": "nominal", "sort": null},
      "y": {"field": "hi", "type": "quantitative"},
      "color": {"field": "cond", "type": "nominal", "sort": null, "scale": {"domain": ["+GppNHp + C - 2.5 sec", "+GppNHp + C - 15 sec", "+GDP + C - 2.5 sec", "+GDP + C - 15 sec"], "range": ["#111111", "#555555", "#222222", "#666666"]}, "legend": null}}},
    {"transform": [{"filter": "datum.sig != ''"}],
     "mark": {"type": "text", "fontSize": 10, "fontWeight": "bold", "baseline": "alphabetic", "dy": 1.5},
     "encoding": {
      "x": {"field": "compound", "type": "nominal", "sort": null, "axis": {"title": null, "labelAngle": 315, "labelAlign": "right", "labelBaseline": "middle", "labelOverlap": false, "labelFontSize": 12.5, "labelFontWeight": "bold", "labelColor": "#111111", "domainColor": "#000000", "domainWidth": 2, "tickColor": "#000000", "tickWidth": 2, "tickSize": 5, "labelPadding": 4, "grid": false}},
      "xOffset": {"field": "cond", "type": "nominal", "sort": null},
      "y": {"field": "hi", "type": "quantitative"},
      "text": {"field": "sig"},
      "color": {"field": "level", "type": "nominal", "scale": {"domain": ["p<0.01", "p<0.05"], "range": ["#ff2b2b", "#3a3aff"]}, "legend": null}}}
   ]
  },
  {
   "width": 300, "height": 176,
   "encoding": {
    "x": {"field": "x", "type": "quantitative", "scale": {"domain": [0, 300], "nice": false, "zero": false}, "axis": null},
    "y": {"field": "y", "type": "quantitative", "scale": {"domain": [0, 176], "nice": false, "zero": false}, "axis": null}},
   "layer": [
    {"data": {"values": [
      {"x": 80.7, "y": 93.3, "sample": "GDP"}, {"x": 83.3, "y": 101.7, "sample": "GDP"}, {"x": 85.7, "y": 108.3, "sample": "GDP"}, {"x": 88, "y": 106, "sample": "GDP"}, {"x": 90, "y": 110, "sample": "GDP"}, {"x": 92.3, "y": 106.7, "sample": "GDP"}, {"x": 94, "y": 108.3, "sample": "GDP"}, {"x": 96.7, "y": 103.3, "sample": "GDP"}, {"x": 98.3, "y": 90, "sample": "GDP"}, {"x": 100, "y": 40, "sample": "GDP"}, {"x": 101.7, "y": 56.7, "sample": "GDP"}, {"x": 103.3, "y": 103.3, "sample": "GDP"}, {"x": 105, "y": 93.3, "sample": "GDP"}, {"x": 106.7, "y": 45, "sample": "GDP"}, {"x": 108.3, "y": 63.3, "sample": "GDP"}, {"x": 110, "y": 96.7, "sample": "GDP"}, {"x": 111.7, "y": 93.3, "sample": "GDP"}, {"x": 113.3, "y": 98.3, "sample": "GDP"}, {"x": 115, "y": 90, "sample": "GDP"}, {"x": 116.7, "y": 96.7, "sample": "GDP"}, {"x": 118.3, "y": 98.3, "sample": "GDP"}, {"x": 120, "y": 90, "sample": "GDP"}, {"x": 121.7, "y": 98.3, "sample": "GDP"}, {"x": 123.3, "y": 100, "sample": "GDP"}, {"x": 125, "y": 103.3, "sample": "GDP"}, {"x": 126.7, "y": 104.7, "sample": "GDP"}, {"x": 128.3, "y": 103.3, "sample": "GDP"}, {"x": 130, "y": 99.3, "sample": "GDP"},
      {"x": 135, "y": 91.7, "sample": "His-Cdc42 GDP"}, {"x": 136.7, "y": 101.7, "sample": "His-Cdc42 GDP"}, {"x": 138.3, "y": 103.3, "sample": "His-Cdc42 GDP"}, {"x": 140, "y": 98.3, "sample": "His-Cdc42 GDP"}, {"x": 141.7, "y": 103.3, "sample": "His-Cdc42 GDP"}, {"x": 143.3, "y": 101.7, "sample": "His-Cdc42 GDP"}, {"x": 145, "y": 106, "sample": "His-Cdc42 GDP"}, {"x": 146.7, "y": 110, "sample": "His-Cdc42 GDP"}, {"x": 148.3, "y": 116, "sample": "His-Cdc42 GDP"}, {"x": 150, "y": 111.7, "sample": "His-Cdc42 GDP"}, {"x": 151.7, "y": 101.7, "sample": "His-Cdc42 GDP"}, {"x": 153.3, "y": 93.3, "sample": "His-Cdc42 GDP"}, {"x": 154.7, "y": 65, "sample": "His-Cdc42 GDP"}, {"x": 156, "y": 83.3, "sample": "His-Cdc42 GDP"}, {"x": 157.3, "y": 96.7, "sample": "His-Cdc42 GDP"}, {"x": 159, "y": 96.7, "sample": "His-Cdc42 GDP"}, {"x": 160.7, "y": 73.3, "sample": "His-Cdc42 GDP"}, {"x": 162, "y": 90, "sample": "His-Cdc42 GDP"}, {"x": 163.3, "y": 98.3, "sample": "His-Cdc42 GDP"}, {"x": 165, "y": 100, "sample": "His-Cdc42 GDP"}, {"x": 166.7, "y": 96.7, "sample": "His-Cdc42 GDP"}, {"x": 168.3, "y": 103.3, "sample": "His-Cdc42 GDP"}, {"x": 170, "y": 96.7, "sample": "His-Cdc42 GDP"}, {"x": 171.7, "y": 100, "sample": "His-Cdc42 GDP"}, {"x": 173.3, "y": 91.7, "sample": "His-Cdc42 GDP"}, {"x": 175, "y": 105, "sample": "His-Cdc42 GDP"}, {"x": 176.7, "y": 91.7, "sample": "His-Cdc42 GDP"}, {"x": 178.3, "y": 96.7, "sample": "His-Cdc42 GDP"}, {"x": 180, "y": 88.3, "sample": "His-Cdc42 GDP"}, {"x": 181.7, "y": 95, "sample": "His-Cdc42 GDP"}, {"x": 183.3, "y": 90, "sample": "His-Cdc42 GDP"}, {"x": 185, "y": 93.3, "sample": "His-Cdc42 GDP"},
      {"x": 189, "y": 93.3, "sample": "GppNHp"}, {"x": 190.7, "y": 101.7, "sample": "GppNHp"}, {"x": 192.3, "y": 106.7, "sample": "GppNHp"}, {"x": 194, "y": 111.7, "sample": "GppNHp"}, {"x": 195.7, "y": 104, "sample": "GppNHp"}, {"x": 197.3, "y": 90, "sample": "GppNHp"}, {"x": 199, "y": 98.3, "sample": "GppNHp"}, {"x": 200.7, "y": 105, "sample": "GppNHp"}, {"x": 202.3, "y": 98.3, "sample": "GppNHp"}, {"x": 204, "y": 86.7, "sample": "GppNHp"}, {"x": 205.7, "y": 81.7, "sample": "GppNHp"}, {"x": 208, "y": 76.7, "sample": "GppNHp"}, {"x": 210, "y": 63.3, "sample": "GppNHp"}, {"x": 211.3, "y": 73.3, "sample": "GppNHp"}, {"x": 213.3, "y": 61.7, "sample": "GppNHp"}, {"x": 215.3, "y": 56.7, "sample": "GppNHp"}, {"x": 217.3, "y": 36.7, "sample": "GppNHp"}, {"x": 219, "y": 56.7, "sample": "GppNHp"}, {"x": 220.7, "y": 83.3, "sample": "GppNHp"}, {"x": 222.3, "y": 100, "sample": "GppNHp"}, {"x": 224, "y": 103.3, "sample": "GppNHp"}, {"x": 225.7, "y": 96.7, "sample": "GppNHp"}, {"x": 227.3, "y": 103.3, "sample": "GppNHp"}, {"x": 229, "y": 93.3, "sample": "GppNHp"}, {"x": 230.7, "y": 105, "sample": "GppNHp"}, {"x": 232.3, "y": 98.3, "sample": "GppNHp"}, {"x": 234, "y": 90, "sample": "GppNHp"}, {"x": 235.7, "y": 101.7, "sample": "GppNHp"}, {"x": 237.3, "y": 90, "sample": "GppNHp"}, {"x": 239, "y": 93.3, "sample": "GppNHp"},
      {"x": 244, "y": 90, "sample": "His-Cdc42 GppNHp"}, {"x": 245.7, "y": 95, "sample": "His-Cdc42 GppNHp"}, {"x": 247.3, "y": 96.7, "sample": "His-Cdc42 GppNHp"}, {"x": 249, "y": 91.7, "sample": "His-Cdc42 GppNHp"}, {"x": 250.7, "y": 98.3, "sample": "His-Cdc42 GppNHp"}, {"x": 252.3, "y": 93.3, "sample": "His-Cdc42 GppNHp"}, {"x": 254, "y": 96.7, "sample": "His-Cdc42 GppNHp"}, {"x": 255.7, "y": 95, "sample": "His-Cdc42 GppNHp"}, {"x": 257.3, "y": 88.3, "sample": "His-Cdc42 GppNHp"}, {"x": 259, "y": 103.3, "sample": "His-Cdc42 GppNHp"}, {"x": 260.7, "y": 120, "sample": "His-Cdc42 GppNHp"}, {"x": 262.3, "y": 130, "sample": "His-Cdc42 GppNHp"}, {"x": 264, "y": 138.3, "sample": "His-Cdc42 GppNHp"}, {"x": 265.7, "y": 133.3, "sample": "His-Cdc42 GppNHp"}, {"x": 267.3, "y": 115, "sample": "His-Cdc42 GppNHp"}, {"x": 269, "y": 120, "sample": "His-Cdc42 GppNHp"}, {"x": 270.7, "y": 130, "sample": "His-Cdc42 GppNHp"}, {"x": 272.3, "y": 128.3, "sample": "His-Cdc42 GppNHp"}, {"x": 274, "y": 120, "sample": "His-Cdc42 GppNHp"}, {"x": 275.7, "y": 110, "sample": "His-Cdc42 GppNHp"}, {"x": 277.3, "y": 96.7, "sample": "His-Cdc42 GppNHp"}, {"x": 279, "y": 86.7, "sample": "His-Cdc42 GppNHp"}, {"x": 280.7, "y": 96.7, "sample": "His-Cdc42 GppNHp"}, {"x": 282.3, "y": 90, "sample": "His-Cdc42 GppNHp"}, {"x": 284, "y": 95, "sample": "His-Cdc42 GppNHp"}, {"x": 285.7, "y": 86.7, "sample": "His-Cdc42 GppNHp"}, {"x": 287.3, "y": 93.3, "sample": "His-Cdc42 GppNHp"}, {"x": 289, "y": 90, "sample": "His-Cdc42 GppNHp"}, {"x": 290.7, "y": 95, "sample": "His-Cdc42 GppNHp"}, {"x": 292.3, "y": 90, "sample": "His-Cdc42 GppNHp"}, {"x": 294, "y": 85, "sample": "His-Cdc42 GppNHp"}, {"x": 295.7, "y": 84.3, "sample": "His-Cdc42 GppNHp"}]},
     "mark": {"type": "line", "strokeWidth": 1.1},
     "encoding": {"color": {"field": "sample", "type": "nominal", "scale": {"domain": ["GDP", "His-Cdc42 GDP", "GppNHp", "His-Cdc42 GppNHp"], "range": ["#1e1e1e", "#2b2bef", "#9a9a9a", "#e02828"]}, "legend": null}}},
    {"data": {"values": [
      {"x": 80.7, "x2": 130.7, "y": 11.7, "y2": 11.7}, {"x": 189, "x2": 239, "y": 11.7, "y2": 11.7},
      {"x": 84, "x2": 84, "y": 11.7, "y2": 7.2}, {"x": 89.5, "x2": 89.5, "y": 11.7, "y2": 8.5}, {"x": 95, "x2": 95, "y": 11.7, "y2": 8.5}, {"x": 100.5, "x2": 100.5, "y": 11.7, "y2": 8.5}, {"x": 106, "x2": 106, "y": 11.7, "y2": 8.5}, {"x": 111.5, "x2": 111.5, "y": 11.7, "y2": 8.5}, {"x": 117, "x2": 117, "y": 11.7, "y2": 8.5}, {"x": 122.5, "x2": 122.5, "y": 11.7, "y2": 7.2}, {"x": 128, "x2": 128, "y": 11.7, "y2": 8.5},
      {"x": 192.3, "x2": 192.3, "y": 11.7, "y2": 7.2}, {"x": 197.8, "x2": 197.8, "y": 11.7, "y2": 8.5}, {"x": 203.3, "x2": 203.3, "y": 11.7, "y2": 8.5}, {"x": 208.8, "x2": 208.8, "y": 11.7, "y2": 8.5}, {"x": 214.3, "x2": 214.3, "y": 11.7, "y2": 8.5}, {"x": 219.8, "x2": 219.8, "y": 11.7, "y2": 8.5}, {"x": 225.3, "x2": 225.3, "y": 11.7, "y2": 8.5}, {"x": 230.8, "x2": 230.8, "y": 11.7, "y2": 7.2}, {"x": 236.3, "x2": 236.3, "y": 11.7, "y2": 8.5}]},
     "mark": {"type": "rule", "color": "#222222", "strokeWidth": 0.8},
     "encoding": {"x2": {"field": "x2"}, "y2": {"field": "y2"}}},
    {"data": {"values": [{"x": 167.3, "y": 47.3, "x2": 162.8, "y2": 56.3}, {"x": 290.7, "y": 136.7, "x2": 286.2, "y2": 130.7}]},
     "mark": {"type": "rule", "color": "#111111", "strokeWidth": 1},
     "encoding": {"x2": {"field": "x2"}, "y2": {"field": "y2"}}},
    {"data": {"values": [{"x": 162.8, "y": 56.3}]},
     "mark": {"type": "point", "shape": "triangle", "filled": true, "size": 14, "angle": 333, "color": "#111111", "opacity": 1},
     "encoding": {}},
    {"data": {"values": [{"x": 286.2, "y": 130.7}]},
     "mark": {"type": "point", "shape": "triangle", "filled": true, "size": 14, "angle": 217, "color": "#111111", "opacity": 1},
     "encoding": {}},
    {"data": {"values": [{"x": 1, "y": 197, "label": "E"}]},
     "mark": {"type": "text", "align": "left", "baseline": "alphabetic", "font": "Liberation Serif", "fontSize": 25, "color": "#111111"},
     "encoding": {"text": {"field": "label"}}},
    {"data": {"values": [{"x": 175.7, "y": 192.3, "label": "Compound 16"}]},
     "mark": {"type": "text", "baseline": "middle", "font": "Liberation Serif", "fontSize": 8.5, "fontWeight": "bold", "color": "#111111"},
     "encoding": {"text": {"field": "label"}}},
    {"data": {"values": [{"x": 99, "y": 166.7, "label": "GDP"}, {"x": 155.7, "y": 171.7, "label": "His-Cdc42"}, {"x": 155.7, "y": 161.7, "label": "GDP"}, {"x": 212.3, "y": 166.7, "label": "GppNHp"}, {"x": 269, "y": 171.7, "label": "His-Cdc42"}, {"x": 269, "y": 161.7, "label": "GppNHp"}]},
     "mark": {"type": "text", "baseline": "middle", "font": "Liberation Serif", "fontSize": 9, "fontWeight": "bold", "color": "#111111"},
     "encoding": {"text": {"field": "label"}}},
    {"data": {"values": [{"x": 47, "y": 19.3, "label": "WaterLOGSY"}]},
     "mark": {"type": "text", "baseline": "middle", "font": "Liberation Serif", "fontSize": 5, "fontWeight": "bold", "color": "#111111"},
     "encoding": {"text": {"field": "label"}}},
    {"data": {"values": [{"x": 84, "y": 4.5, "label": "7.95"}, {"x": 126, "y": 4.5, "label": "ppm"}, {"x": 192.3, "y": 4.5, "label": "7.95"}, {"x": 234, "y": 4.5, "label": "ppm"}]},
     "mark": {"type": "text", "baseline": "middle", "font": "Liberation Serif", "fontSize": 4.5, "color": "#222222"},
     "encoding": {"text": {"field": "label"}}}
   ]
  }
 ]}
]
}
